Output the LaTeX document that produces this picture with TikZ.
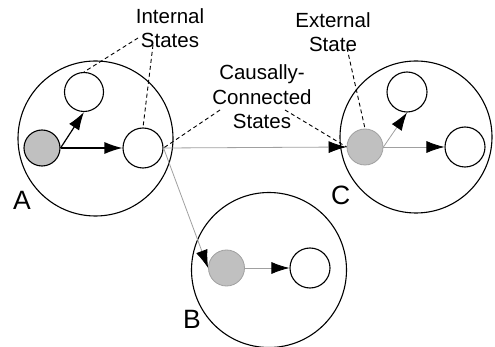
\documentclass[tikz,border=0pt]{standalone}
\usepackage{fontspec}
\setmainfont{Liberation Sans}
\usetikzlibrary{arrows.meta}
\definecolor{shade}{HTML}{C0C0C0}
\definecolor{thin}{HTML}{A0A0A0}
\begin{document}
\begin{tikzpicture}[x=1pt,y=-1pt,
  bigc/.style={circle,draw=black,line width=1.1pt,minimum size=#1,inner sep=0pt},
  whitec/.style={circle,draw=black,line width=1.1pt,fill=white,minimum size=#1,inner sep=0pt},
  grayA/.style={circle,draw=black,line width=1.1pt,fill=shade,minimum size=36pt,inner sep=0pt},
  grayB/.style={circle,draw=thin,line width=0.8pt,fill=shade,minimum size=36pt,inner sep=0pt},
  strongarr/.style={draw=black,line width=1.2pt,-{Latex[length=18pt,width=12pt]}},
  weakarr/.style={draw=thin,line width=0.8pt,-{Latex[length=18pt,width=12pt,color=black]}},
  dashline/.style={draw=black,line width=0.9pt,dash pattern=on 4pt off 3pt},
  lbl/.style={font=\fontsize{20.5}{24.5}\selectfont,align=center,inner sep=0pt},
  letter/.style={font=\fontsize{26.5}{30}\selectfont,inner sep=0pt,anchor=base west}
]
\useasboundingbox (0,0) rectangle (495,347);
% big circles
\node[bigc=155pt] (A) at (95.5,138.5) {};
\node[bigc=152pt] (C) at (416,137) {};
\node[bigc=155pt] (B) at (269,270) {};
% inner circles A
\node[whitec=39pt] (ta) at (84,92) {};
\node[grayA] (ga) at (42,148) {};
\node[whitec=40pt] (ra) at (143,148) {};
% inner circles C
\node[grayB] (gc) at (365,147) {};
\node[whitec=40pt] (tc) at (407,92) {};
\node[whitec=40pt] (rc) at (465,147) {};
% inner circles B
\node[grayB] (gb) at (226.5,268) {};
\node[whitec=40pt] (wb) at (310,268) {};
% connectors
\draw[strongarr] (ga.east) -- (ta.south);
\draw[strongarr] (ga.east) -- (ra.west);
\draw[weakarr] (ra.east) -- (gc.west);
\draw[weakarr] (ra.east) -- (gb.west);
\draw[weakarr] (gb.east) -- (wb.west);
\draw[weakarr] (gc.east) -- (tc.south);
\draw[weakarr] (gc.east) -- (rc.west);
% labels
\node[lbl] (intl) at (170,28.3) {Internal\\States};
\node[lbl] (extl) at (333,32.3) {External\\State};
\node[lbl] (caus) at (262,97) {Causally-\\Connected\\States};
\node[letter] (la) at (13,210) {A};
\node[letter] (lb) at (183,328) {B};
\node[letter] (lc) at (331,205) {C};
% dashed pointers
\coordinate (i1) at (138,38);
\coordinate (i2) at (153,45);
\coordinate (c1) at (220,110);
\coordinate (c2) at (285,110);
\coordinate (e1) at (347,48);
\draw[dashline] (i1) -- (ta.north);
\draw[dashline] (i2) -- (ra.north);
\draw[dashline] (c1) -- (ra.east);
\draw[dashline] (c2) -- (gc.west);
\draw[dashline] (e1) -- (gc.north);
\end{tikzpicture}
\end{document}
